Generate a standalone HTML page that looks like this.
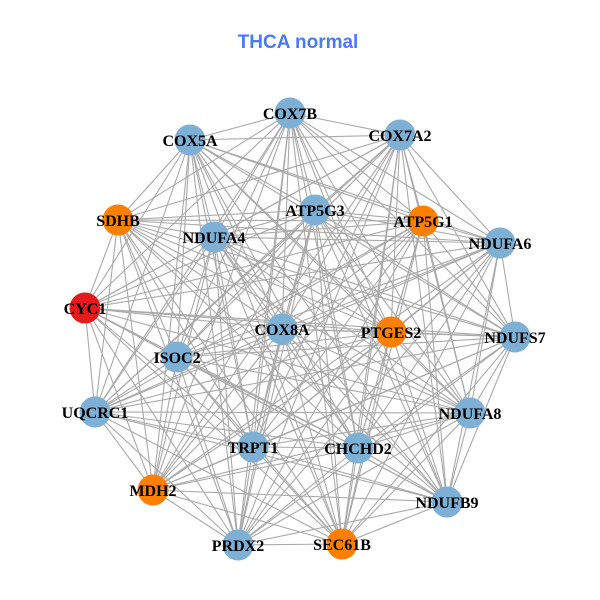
<!DOCTYPE html>
<html><head><meta charset="utf-8"><style>
html,body{margin:0;padding:0;background:#fff;}
svg{display:block;}
</style></head><body>
<svg width="600" height="600" viewBox="0 0 600 600" xmlns="http://www.w3.org/2000/svg" id="g">
<rect width="600" height="600" fill="#fff"/>
<text x="298" y="48" text-anchor="middle" font-family="Liberation Sans, sans-serif" font-weight="bold" font-size="19" fill="#4b7bec">THCA normal</text>
<g id="edges" stroke="#a9a9a9" stroke-width="1.1" fill="none"></g>
<g id="nodes"></g>
<g id="labels" font-family="Liberation Serif, serif" font-weight="bold" font-size="16" fill="#000" text-anchor="middle"></g>
</svg>
<script>
var N=[
["COX7B",290,113,"b"],["COX5A",190,140,"b"],["COX7A2",400,135,"b"],
["SDHB",118,220,"o"],["NDUFA4",214,237,"b"],["ATP5G3",315,210,"b"],
["ATP5G1",423,221,"o"],["NDUFA6",500,243,"b"],["CYC1",85,308,"r"],
["COX8A",282,329,"b"],["PTGES2",391,332,"o"],["NDUFS7",515,337,"b"],
["ISOC2",177,357,"b"],["UQCRC1",95,412,"b"],["NDUFA8",470,413,"b"],
["TRPT1",253,447,"b"],["CHCHD2",358,448,"b"],["MDH2",153,490,"o"],
["NDUFB9",447,502,"b"],["PRDX2",238,545,"b"],["SEC61B",342,544,"o"]];
var C={b:"#7eb0d5",o:"#ff7f00",r:"#e41a1c"};
var ns="http://www.w3.org/2000/svg";
var E=document.getElementById("edges"),ND=document.getElementById("nodes"),L=document.getElementById("labels");
for(var i=0;i<N.length;i++)for(var j=i+1;j<N.length;j++){
var l=document.createElementNS(ns,"line");
l.setAttribute("x1",N[i][1]);l.setAttribute("y1",N[i][2]);
l.setAttribute("x2",N[j][1]);l.setAttribute("y2",N[j][2]);E.appendChild(l);}
for(var i=0;i<N.length;i++){
var c=document.createElementNS(ns,"circle");
c.setAttribute("cx",N[i][1]);c.setAttribute("cy",N[i][2]);c.setAttribute("r",15.5);
c.setAttribute("fill",C[N[i][3]]);ND.appendChild(c);}
for(var k=0;k<N.length;k++){var t=document.createElementNS(ns,"text");
t.setAttribute("x",N[k][1]);t.setAttribute("y",N[k][2]+6);t.textContent=N[k][0];L.appendChild(t);}
</script>
</body></html>
